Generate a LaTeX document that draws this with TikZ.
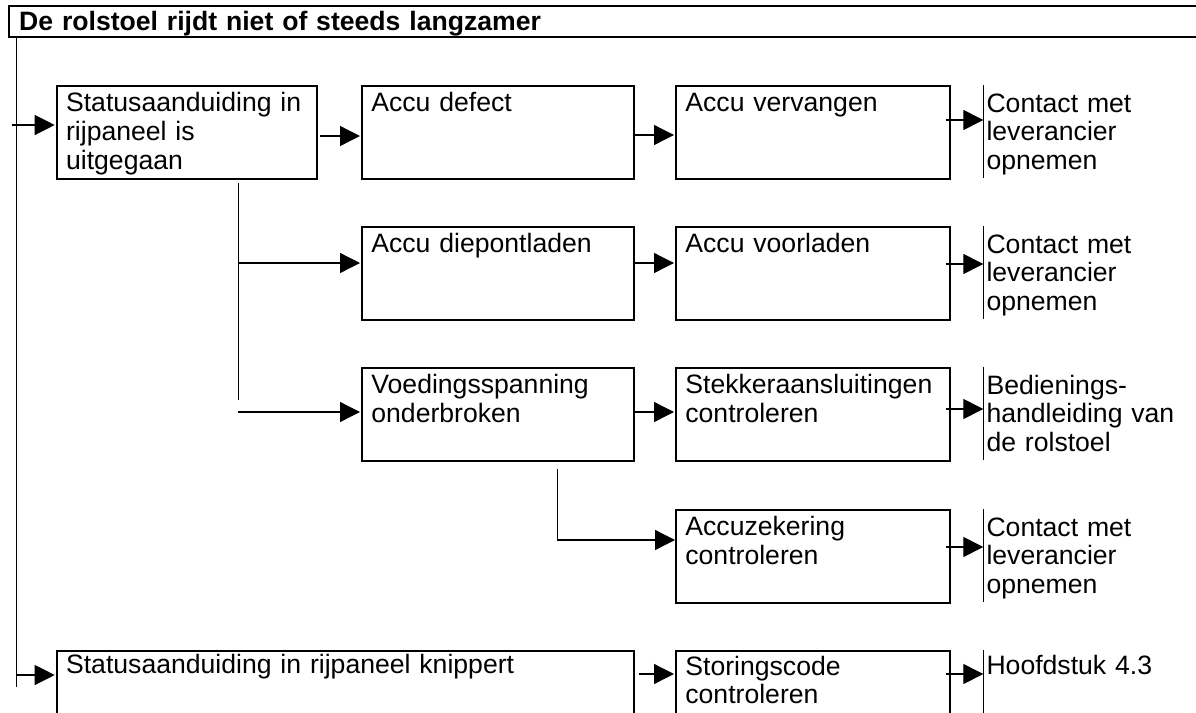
\documentclass[tikz,border=0pt]{standalone}
\usepackage{fontspec}
\setmainfont{Liberation Sans}
\usetikzlibrary{arrows.meta,calc}

\begin{document}
\begin{tikzpicture}[x=1pt, y=-1pt,
  base/.style={anchor=north west, align=left, inner ysep=0pt,
    font=\fontsize{26.6}{28.7}\selectfont},
  stepbox/.style={base, draw, line width=1.8pt, inner xsep=9.5pt,
    text height=26pt, text depth=67pt},
  midbox/.style={stepbox, text width=253pt},
  rightbox/.style={stepbox, text width=255pt},
  result/.style={base, inner xsep=3pt, text height=27pt, text depth=66pt,
    text width=200pt},
  headbox/.style={base, draw, line width=1.8pt, inner xsep=10pt,
    text height=24.3pt, text depth=6.7pt, text width=1200pt,
    font=\fontsize{26.6}{28.7}\selectfont\bfseries},
  line/.style={line width=1.3pt},
  bar/.style={line width=1.4pt},
  arr/.style={line, -{Triangle[length=20pt,width=20pt]}}]

\path[use as bounding box] (0,0) rectangle (1196,712);
\clip (0,0) rectangle (1196,712);

% heading and the spine running down the left side
\node[headbox] (title) at (8.3,5) {De rolstoel rijdt niet of steeds langzamer};
\coordinate (spinetop) at ($(title.south west)+(8.4,0)$);
\coordinate (spinebot) at (16.7,686.7);
\draw[line] (spinetop) -- (spinebot);

% row 1
\node[stepbox, text width=241.3pt] (b1) at (55.7,85) {Statusaanduiding in\\rijpaneel is\\uitgegaan};
\node[midbox] (b2) at (361,85) {Accu defect};
\node[rightbox] (b3) at (675,85) {Accu vervangen};
\node[result] (r1) at (983.3,85) {Contact met\\leverancier\\opnemen};

% row 2
\node[midbox] (b4) at (361,226) {Accu diepontladen};
\node[rightbox] (b5) at (675,226) {Accu voorladen};
\node[result] (r2) at (983.3,226) {Contact met\\leverancier\\opnemen};

% row 3
\node[midbox] (b6) at (361,367) {Voedingsspanning\\onderbroken};
\node[rightbox] (b7) at (675,367) {Stekkeraansluitingen\\controleren};
\node[result] (r3) at (983.3,367) {Bedienings-\\handleiding van\\de rolstoel};

% row 4
\node[rightbox] (b8) at (675,509) {Accuzekering\\controleren};
\node[result] (r4) at (983.3,509) {Contact met\\leverancier\\opnemen};

% row 5
\node[stepbox, text width=558.6pt, text height=23pt, text depth=70pt] (b9) at (55.7,650) {Statusaanduiding in rijpaneel knippert};
\node[rightbox, text height=24.3pt, text depth=68.7pt] (b10) at (675,650) {Storingscode\\controleren};
\node[result, text height=24.3pt, text depth=68.7pt] (r5) at (983.3,650) {Hoofdstuk 4.3};

% bars in front of the references
\foreach \r in {r1,r2,r3,r4,r5}
  \draw[bar] (\r.north west) -- (\r.south west);

% row 1 arrows
\draw[arr] ($(spinetop |- b1.north west)+(-5,40)$) -- ($(b1.north west)+(-1,40)$);
\draw[arr] ($(b1.north east)+(2,51)$) -- ($(b2.north west)+(-1,51)$);
\draw[arr] ($(b2.north east)+(0,50)$) -- ($(b3.north west)+(-1,50)$);
\draw[arr] ($(b3.north east)+(-5,35)$) -- ($(r1.north west)+(0,35)$);

% branch below the first box
\coordinate (j1) at ($(b1.south west)+(182.6,3.3)$);
\coordinate (j1end) at ($(j1)+(0,216.7)$);
\draw[line] (j1) -- (j1end);

% row 2 arrows
\draw[arr] ($(j1 |- b4.north west)+(0,37)$) -- ($(b4.north west)+(-1,37)$);
\draw[arr] ($(b4.north east)+(0,37)$) -- ($(b5.north west)+(-1,37)$);
\draw[arr] ($(b5.north east)+(-5,38)$) -- ($(r2.north west)+(0,38)$);

% row 3 arrows
\draw[arr] ($(j1 |- b6.north west)+(0,45)$) -- ($(b6.north west)+(-1,45)$);
\draw[arr] ($(b6.north east)+(0,45)$) -- ($(b7.north west)+(-1,45)$);
\draw[arr] ($(b7.north east)+(-5,42)$) -- ($(r3.north west)+(0,42)$);

% branch below the supply-voltage box, and row 4
\draw[arr] ($(b6.south west)+(196.5,7)$) |- ($(b8.north west)+(0,31)$);
\draw[arr] ($(b8.north east)+(-5,38)$) -- ($(r4.north west)+(0,38)$);

% row 5 arrows
\draw[arr] ($(spinetop |- b9.north west)+(0,25)$) -- ($(b9.north west)+(-1,25)$);
\draw[arr] ($(b9.north east)+(4,24)$) -- ($(b10.north west)+(-1,24)$);
\draw[arr] ($(b10.north east)+(-5,24)$) -- ($(r5.north west)+(0,24)$);

\end{tikzpicture}
\end{document}
